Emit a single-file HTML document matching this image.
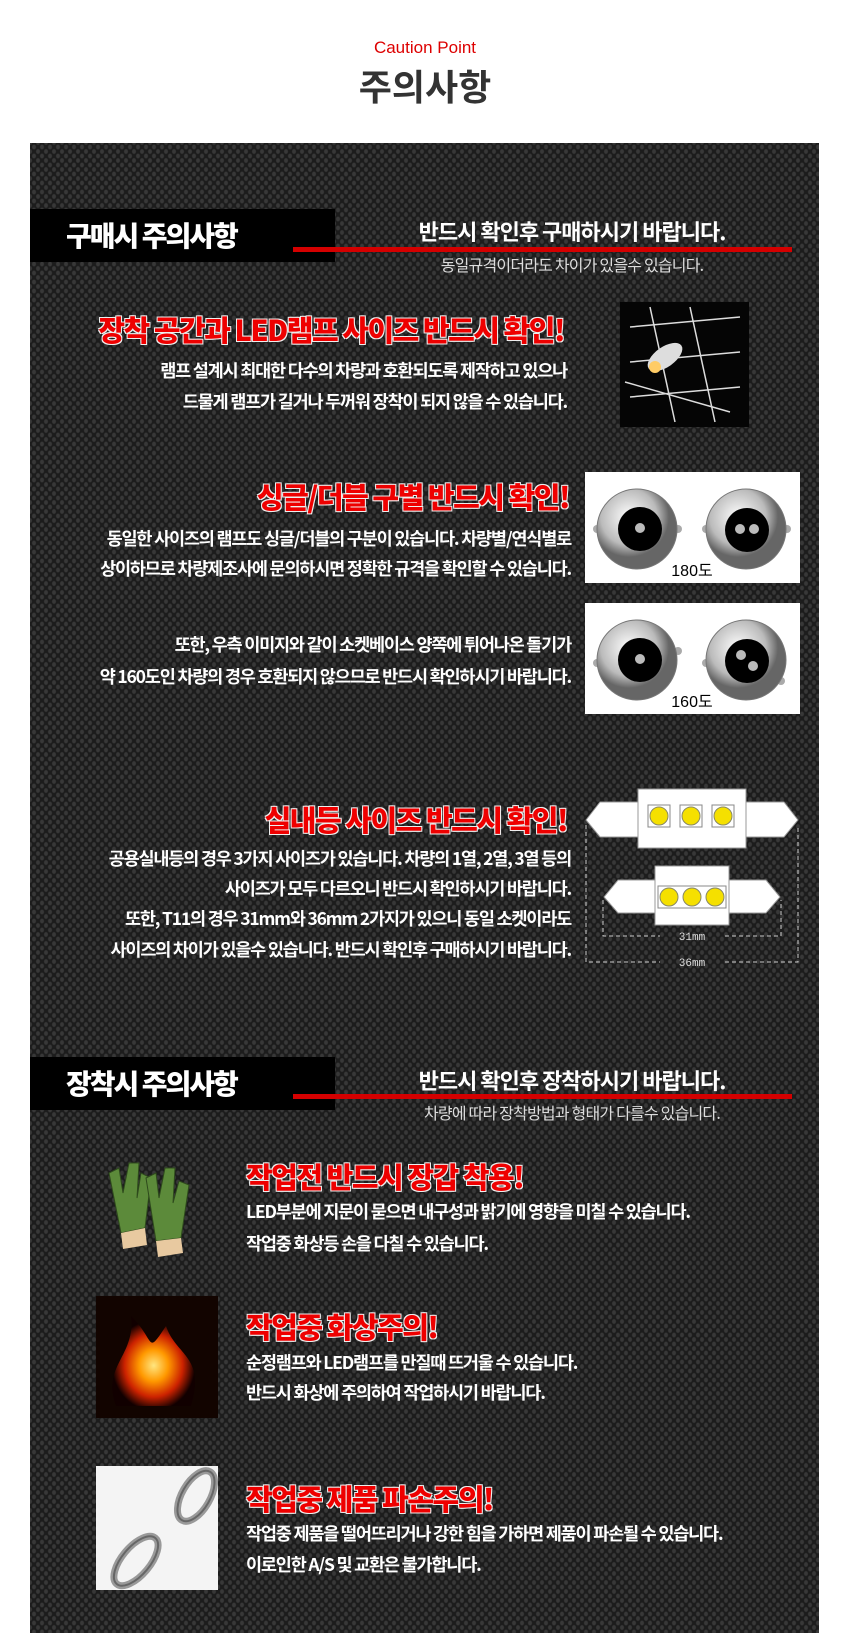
<!DOCTYPE html>
<html><head><meta charset="utf-8">
<style>
*{margin:0;padding:0;box-sizing:border-box}
body{width:850px;height:1652px;background:#fff;position:relative;overflow:hidden;font-family:"Liberation Sans","Noto Sans CJK KR",sans-serif}
.abs{position:absolute;white-space:nowrap}
#panel{position:absolute;left:30px;top:143px;width:789px;height:1490px;background-color:#1c1c1c;
background-image:radial-gradient(ellipse 3px 3.6px at 4px 4px,#383838 50%,transparent 80%),radial-gradient(ellipse 3px 3.6px at 4px 4px,#383838 50%,transparent 80%);
background-size:8px 9px,8px 9px;background-position:0 0,4px 4.5px}
.lbl{position:absolute;left:30px;width:305px;height:53px;background:#000;color:#fff;font-weight:900;font-size:28px;line-height:53px;padding-left:36px;letter-spacing:-2px;font-family:"Noto Sans CJK KR",sans-serif}
.rl{position:absolute;left:293px;width:499px;height:5px;background:#d40000}
.h{color:#fff;font-size:22px;font-weight:bold;letter-spacing:-1px;font-family:"Noto Sans CJK KR",sans-serif;transform:translateX(-50%)}
.s{color:#ddd;font-size:16px;letter-spacing:-0.8px;font-family:"Noto Sans CJK KR",sans-serif;transform:translateX(-50%)}
.t{color:#e00;font-size:29px;font-weight:900;letter-spacing:-1.5px;font-family:"Noto Sans CJK KR",sans-serif;
text-shadow:1px 1px 0 #eee,-1px -1px 0 #eee,1px -1px 0 #eee,-1px 1px 0 #eee;line-height:1}
.p{color:#fff;font-size:17.5px;font-weight:bold;letter-spacing:-1.2px;font-family:"Noto Sans CJK KR",sans-serif;line-height:1}
.r{text-align:right}
</style></head><body>
<div class="abs" style="left:0;width:850px;text-align:center;top:38px;color:#d00;font-size:17px">Caution Point</div>
<div class="abs" style="left:0;width:850px;text-align:center;top:63px;color:#333;font-size:36px;font-weight:bold;font-family:'Noto Sans CJK KR',sans-serif;line-height:44px">주의사항</div>
<div id="panel"></div>

<div class="lbl" style="top:209px">구매시 주의사항</div>
<div class="rl" style="top:247px"></div>
<div class="abs h" style="left:572px;top:217px;line-height:28px">반드시 확인후 구매하시기 바랍니다.</div>
<div class="abs s" style="left:572px;top:253px;line-height:22px">동일규격이더라도 차이가 있을수 있습니다.</div>

<div class="abs t" style="right:286px;top:315px">장착 공간과 LED램프 사이즈 반드시 확인!</div>
<div class="abs p r" style="right:283px;top:362px">램프 설계시 최대한 다수의 차량과 호환되도록 제작하고 있으나</div>
<div class="abs p r" style="right:283px;top:393px">드물게 램프가 길거나 두꺼워 장착이 되지 않을 수 있습니다.</div>
<svg class="abs" style="left:620px;top:302px" width="129" height="125"><rect width="129" height="125" fill="#050505"/>
<g stroke="#ddd" stroke-width="1.5"><line x1="10" y1="25" x2="120" y2="15"/><line x1="10" y1="60" x2="120" y2="50"/><line x1="10" y1="95" x2="120" y2="85"/><line x1="30" y1="5" x2="55" y2="120"/><line x1="70" y1="5" x2="95" y2="120"/><line x1="5" y1="80" x2="110" y2="110"/></g>
<ellipse cx="45" cy="55" rx="20" ry="10" fill="#ddd" transform="rotate(-35 45 55)"/><circle cx="35" cy="65" r="6" fill="#fc6"/></svg>

<div class="abs t" style="right:281px;top:482px">싱글/더블 구별 반드시 확인!</div>
<div class="abs p r" style="right:279px;top:530px">동일한 사이즈의 램프도 싱글/더블의 구분이 있습니다. 차량별/연식별로</div>
<div class="abs p r" style="right:279px;top:560px">상이하므로 차량제조사에 문의하시면 정확한 규격을 확인할 수 있습니다.</div>
<div class="abs p r" style="right:279px;top:636px">또한, 우측 이미지와 같이 소켓베이스 양쪽에 튀어나온 돌기가</div>
<div class="abs p r" style="right:279px;top:668px">약 160도인 차량의 경우 호환되지 않으므로 반드시 확인하시기 바랍니다.</div>

<svg class="abs" style="left:585px;top:472px" width="215" height="111"><defs><radialGradient id="m" cx="40%" cy="35%"><stop offset="0" stop-color="#fff"/><stop offset=".7" stop-color="#bbb"/><stop offset="1" stop-color="#666"/></radialGradient></defs>
<rect width="215" height="111" fill="#fff"/>
<circle cx="12" cy="57" r="4" fill="#aaa"/><circle cx="93" cy="57" r="4" fill="#aaa"/><circle cx="52" cy="57" r="40" fill="url(#m)" stroke="#777"/><circle cx="55" cy="57" r="22" fill="#000"/><circle cx="55" cy="56" r="5" fill="#bbb"/>
<circle cx="121" cy="57" r="4" fill="#aaa"/><circle cx="202" cy="57" r="4" fill="#aaa"/><circle cx="161" cy="57" r="40" fill="url(#m)" stroke="#777"/><circle cx="162" cy="58" r="22" fill="#000"/><circle cx="155" cy="57" r="5" fill="#bbb"/><circle cx="169" cy="57" r="5" fill="#bbb"/>
<text x="107" y="104" text-anchor="middle" font-size="16" font-family="Liberation Sans,Noto Sans CJK KR,sans-serif">180도</text></svg>
<svg class="abs" style="left:585px;top:603px" width="215" height="111">
<rect width="215" height="111" fill="#fff"/>
<circle cx="12" cy="60" r="4" fill="#aaa"/><circle cx="93" cy="48" r="4" fill="#aaa"/><circle cx="52" cy="57" r="40" fill="url(#m)" stroke="#777"/><circle cx="55" cy="57" r="22" fill="#000"/><circle cx="55" cy="56" r="5" fill="#bbb"/>
<circle cx="121" cy="60" r="4" fill="#aaa"/><circle cx="196" cy="78" r="4" fill="#aaa"/><circle cx="161" cy="57" r="40" fill="url(#m)" stroke="#777"/><circle cx="162" cy="58" r="22" fill="#000"/><circle cx="156" cy="52" r="5" fill="#bbb"/><circle cx="168" cy="63" r="5" fill="#bbb"/>
<text x="107" y="104" text-anchor="middle" font-size="16" font-family="Liberation Sans,Noto Sans CJK KR,sans-serif">160도</text></svg>

<div class="abs t" style="right:283px;top:805px">실내등 사이즈 반드시 확인!</div>
<div class="abs p r" style="right:279px;top:850px">공용실내등의 경우 3가지 사이즈가 있습니다. 차량의 1열, 2열, 3열 등의</div>
<div class="abs p r" style="right:279px;top:880px">사이즈가 모두 다르오니 반드시 확인하시기 바랍니다.</div>
<div class="abs p r" style="right:279px;top:910px">또한, T11의 경우 31mm와 36mm 2가지가 있으니 동일 소켓이라도</div>
<div class="abs p r" style="right:279px;top:941px">사이즈의 차이가 있을수 있습니다. 반드시 확인후 구매하시기 바랍니다.</div>

<svg class="abs" style="left:580px;top:785px" width="230" height="190">
<g fill="#fff" stroke="#999"><path d="M6 35 L20 17 H58 V52 H20 Z"/><path d="M218 35 L204 17 H166 V52 H204 Z"/><rect x="58" y="4" width="108" height="59"/>
<path d="M24 112 L38 95 H75 V128 H38 Z"/><path d="M200 112 L186 95 H149 V128 H186 Z"/><rect x="75" y="81" width="74" height="59"/></g>
<g stroke="#888" fill="#fff"><rect x="68" y="20" width="22" height="22"/><rect x="100" y="20" width="22" height="22"/><rect x="132" y="20" width="22" height="22"/><rect x="78" y="101" width="68" height="22"/></g>
<g fill="#f5e000" stroke="#886"><circle cx="79" cy="31" r="9"/><circle cx="111" cy="31" r="9"/><circle cx="143" cy="31" r="9"/><circle cx="89" cy="112" r="9"/><circle cx="112" cy="112" r="9"/><circle cx="135" cy="112" r="9"/></g>
<g stroke="#ccc" stroke-dasharray="4 3" fill="none"><path d="M23 115 V151 H80 M145 151 H201 V115"/><path d="M6 40 V177 H80 M145 177 H218 V40"/></g>
<g fill="#ddd" font-size="11" font-family="Liberation Mono,monospace" text-anchor="middle"><text x="112" y="155">31mm</text><text x="112" y="181">36mm</text></g></svg>

<div class="lbl" style="top:1057px">장착시 주의사항</div>
<div class="rl" style="top:1094px"></div>
<div class="abs h" style="left:572px;top:1066px;line-height:28px">반드시 확인후 장착하시기 바랍니다.</div>
<div class="abs s" style="left:572px;top:1101px;line-height:22px">차량에 따라 장착방법과 형태가 다를수 있습니다.</div>

<svg class="abs" style="left:101px;top:1153px" width="96" height="106">
<g fill="#5c8a3a" stroke="#2e4a1c"><path d="M8 20 L18 15 L22 40 L28 10 L38 10 L36 45 L40 20 L50 25 L44 75 L20 80 Z"/><path d="M45 25 L55 20 L58 45 L64 15 L74 15 L72 50 L78 28 L88 32 L80 85 L55 88 Z"/></g>
<path d="M20 80 L44 75 L46 92 L22 96 Z" fill="#e8c9a0"/><path d="M55 88 L80 85 L82 100 L57 104 Z" fill="#e8c9a0"/></svg>
<div class="abs t" style="left:246px;top:1162px">작업전 반드시 장갑 착용!</div>
<div class="abs p" style="left:246px;top:1203px">LED부분에 지문이 묻으면 내구성과 밝기에 영향을 미칠 수 있습니다.</div>
<div class="abs p" style="left:246px;top:1235px">작업중 화상등 손을 다칠 수 있습니다.</div>

<svg class="abs" style="left:96px;top:1296px" width="122" height="122"><defs><radialGradient id="f" cx="50%" cy="55%"><stop offset="0" stop-color="#ffe680"/><stop offset=".35" stop-color="#f90"/><stop offset=".7" stop-color="#c20"/><stop offset="1" stop-color="#100"/></radialGradient></defs>
<rect width="122" height="122" fill="#120400"/><path d="M20 110 C5 70 40 60 35 20 C60 45 50 60 70 30 C80 60 110 60 95 110 Z" fill="url(#f)"/></svg>
<div class="abs t" style="left:246px;top:1312px">작업중 화상주의!</div>
<div class="abs p" style="left:246px;top:1354px">순정램프와 LED램프를 만질때 뜨거울 수 있습니다.</div>
<div class="abs p" style="left:246px;top:1384px">반드시 화상에 주의하여 작업하시기 바랍니다.</div>

<svg class="abs" style="left:96px;top:1466px" width="122" height="124"><rect width="122" height="124" fill="#f4f4f4"/>
<g fill="none" stroke="#999" stroke-width="7"><ellipse cx="100" cy="30" rx="14" ry="28" transform="rotate(30 100 30)"/><ellipse cx="40" cy="95" rx="14" ry="30" transform="rotate(40 40 95)"/></g>
<g fill="none" stroke="#666" stroke-width="2"><ellipse cx="100" cy="30" rx="14" ry="28" transform="rotate(30 100 30)"/><ellipse cx="40" cy="95" rx="14" ry="30" transform="rotate(40 40 95)"/></g></svg>
<div class="abs t" style="left:246px;top:1484px">작업중 제품 파손주의!</div>
<div class="abs p" style="left:246px;top:1525px">작업중 제품을 떨어뜨리거나 강한 힘을 가하면 제품이 파손될 수 있습니다.</div>
<div class="abs p" style="left:246px;top:1556px">이로인한 A/S 및 교환은 불가합니다.</div>
</body></html>
